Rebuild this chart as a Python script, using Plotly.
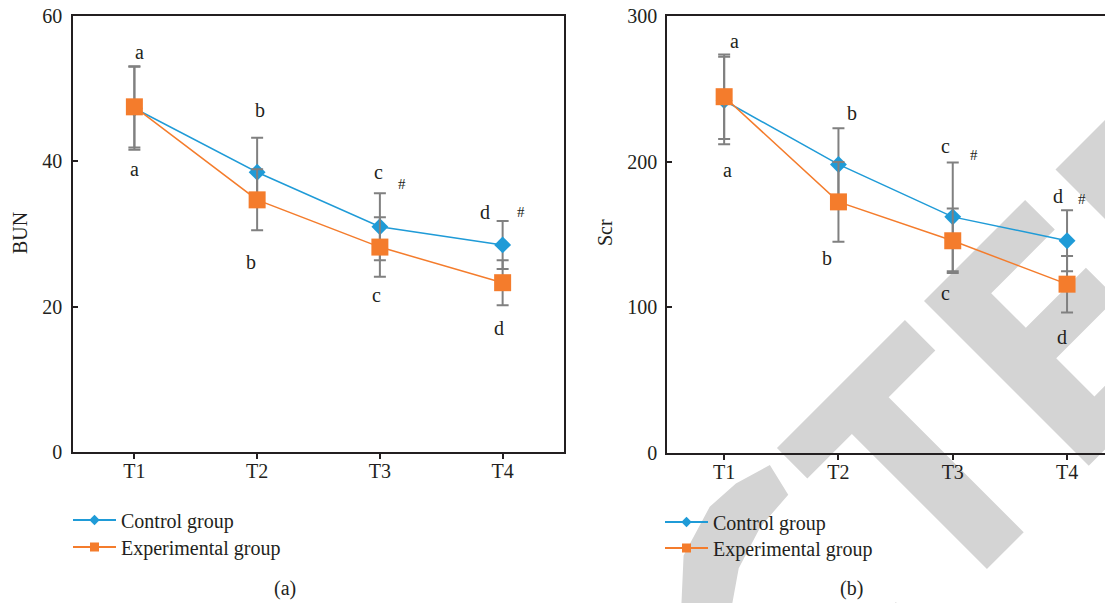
import math
import plotly.graph_objects as go

# ---------------- data ----------------
times = ["T1", "T2", "T3", "T4"]

bun_control = [47.3, 38.5, 31.0, 28.5]
bun_control_sd = [5.7, 4.75, 4.6, 3.3]
bun_exp = [47.5, 34.7, 28.2, 23.3]
bun_exp_sd = [5.6, 4.2, 4.1, 3.1]

scr_control = [242.0, 198.1, 162.1, 145.7]
scr_control_sd = [30.0, 24.8, 37.4, 21.0]
scr_exp = [244.6, 172.4, 145.7, 115.9]
scr_exp_sd = [29.0, 27.4, 22.2, 19.4]

letters_top = ["a", "b", "c", "d"]
letters_bottom = ["a", "b", "c", "d"]
hash_marks = ["", "", "#", "#"]

group_names = ["Control group", "Experimental group"]

# ---------------- styles ----------------
W, H = 1105, 603
FONT = "Liberation Serif"
BLUE = "#1f9bd7"
ORANGE = "#f47c2c"
GREY = "#808080"
AX = "#231f20"
WM = "#d4d4d4"


def px_x(p):
    return p / W


def px_y(p):
    return 1 - p / H


fig = go.Figure()


def add_group(xa, ya, ctrl, ctrl_sd, exp, exp_sd):
    fig.add_trace(go.Scatter(
        x=times, y=ctrl, xaxis=xa, yaxis=ya, mode="lines+markers",
        line=dict(color=BLUE, width=1.5),
        marker=dict(symbol="diamond", size=13, color=BLUE),
        error_y=dict(type="data", array=ctrl_sd, color=GREY, thickness=2, width=6),
        showlegend=False, cliponaxis=False))
    fig.add_trace(go.Scatter(
        x=times, y=exp, xaxis=xa, yaxis=ya, mode="lines+markers",
        line=dict(color=ORANGE, width=1.5),
        marker=dict(symbol="square", size=17, color=ORANGE),
        error_y=dict(type="data", array=exp_sd, color=GREY, thickness=2, width=6),
        showlegend=False, cliponaxis=False))


add_group("x", "y", bun_control, bun_control_sd, bun_exp, bun_exp_sd)
add_group("x2", "y2", scr_control, scr_control_sd, scr_exp, scr_exp_sd)

# legend-only traces (one legend box per entry so that the row spacing matches)
legend_specs = [
    ("legend", "x", "y", 0), ("legend2", "x", "y", 1),
    ("legend3", "x2", "y2", 0), ("legend4", "x2", "y2", 1),
]
for leg, xa, ya, gi in legend_specs:
    if gi == 0:
        fig.add_trace(go.Scatter(
            x=[None], y=[None], xaxis=xa, yaxis=ya, mode="lines+markers", name=group_names[0],
            line=dict(color=BLUE, width=2), marker=dict(symbol="diamond", size=8, color=BLUE),
            legend=leg))
    else:
        fig.add_trace(go.Scatter(
            x=[None], y=[None], xaxis=xa, yaxis=ya, mode="lines+markers", name=group_names[1],
            line=dict(color=ORANGE, width=2), marker=dict(symbol="square", size=9, color=ORANGE),
            legend=leg))

axis_common = dict(showline=True, linecolor=AX, linewidth=1.5, showgrid=False,
                   zeroline=False, tickcolor=AX, tickwidth=1.5, ticklen=5,
                   automargin=False,
                   tickfont=dict(family=FONT, size=20, color="#231f20"))


def legend_box(xp, yp):
    return dict(x=px_x(xp), y=px_y(yp), xanchor="left", yanchor="middle",
                bgcolor="rgba(0,0,0,0)", borderwidth=0, itemwidth=43,
                font=dict(family=FONT, size=20, color="#231f20"))


fig.update_layout(
    template="none",
    width=W, height=H, autosize=False,
    margin=dict(l=0, r=0, t=0, b=0, pad=0),
    paper_bgcolor="white", plot_bgcolor="rgba(0,0,0,0)",
    font=dict(family=FONT, size=20, color="#231f20"),
    xaxis=dict(domain=[px_x(73), px_x(564)], range=[-0.5, 3.5], type="category",
               ticks="outside", mirror=True, anchor="y", ticklabelstandoff=-5,
               **axis_common),
    yaxis=dict(domain=[px_y(452), px_y(16)], range=[0, 60], dtick=20,
               ticks="inside", mirror=True, anchor="x", ticklabelstandoff=5,
               **axis_common),
    xaxis2=dict(domain=[px_x(667), 1.0], range=[-0.5, 3.332], type="category",
                ticks="outside", mirror=True, anchor="y2", ticklabelstandoff=-5,
                **axis_common),
    yaxis2=dict(domain=[px_y(453), px_y(16)], range=[0, 300], dtick=100,
                ticks="inside", mirror=False, anchor="x2", ticklabelstandoff=4,
                **axis_common),
    legend=legend_box(68, 520),
    legend2=legend_box(68, 547),
    legend3=legend_box(660, 522),
    legend4=legend_box(660, 548),
)

# ---------------- annotations ----------------
ann = []
paper_txt = dict(xref="paper", yref="paper", showarrow=False,
                 xanchor="center", yanchor="middle", font=dict(size=20))
ann.append(dict(text="BUN", x=px_x(20), y=px_y(233), textangle=-90, **paper_txt))
ann.append(dict(text="Scr", x=px_x(605), y=px_y(233), textangle=-90, **paper_txt))
ann.append(dict(text="(a)", x=px_x(285), y=px_y(588), **paper_txt))
ann.append(dict(text="(b)", x=px_x(851), y=px_y(588), **paper_txt))

# significance-letter positions (layout: x offset in category units, y in data units)
pos_left = dict(
    top=[(0.04, 55.0), (1.02, 47.1), (1.99, 38.6), (2.86, 33.0)],
    bottom=[(0.0, 38.9), (0.95, 26.2), (1.97, 21.6), (2.97, 17.1)],
    hash=[None, None, (2.18, 36.9), (3.15, 33.0)],
)
pos_right = dict(
    top=[(0.09, 282.8), (1.12, 233.2), (1.94, 210.6), (2.92, 176.4)],
    bottom=[(0.03, 194.5), (0.90, 134.2), (1.94, 109.8), (2.96, 79.3)],
    hash=[None, None, (2.19, 204.9), (3.13, 174.4)],
)

for pos, xa, ya in ((pos_left, "x", "y"), (pos_right, "x2", "y2")):
    for i in range(len(times)):
        tx, ty = pos["top"][i]
        ann.append(dict(text=letters_top[i], x=tx, y=ty, xref=xa, yref=ya,
                        showarrow=False, font=dict(size=20)))
        bx, by = pos["bottom"][i]
        ann.append(dict(text=letters_bottom[i], x=bx, y=by, xref=xa, yref=ya,
                        showarrow=False, font=dict(size=20)))
        if hash_marks[i]:
            hx, hy = pos["hash"][i]
            ann.append(dict(text=hash_marks[i], x=hx, y=hy, xref=xa, yref=ya,
                            showarrow=False, font=dict(size=15)))

fig.update_layout(annotations=ann)

# ---------------- "RETRACTED" watermark (decoration) ----------------
# letter outlines in a rotated letter frame (a: along text, b: letter up), in pixels
WM_ORIGIN = (924, 301)
r2 = math.sqrt(2)


def wm_pt(a, b):
    x = WM_ORIGIN[0] + (a - b) / r2
    y = WM_ORIGIN[1] + (-a - b) / r2
    return px_x(x), px_y(y)


letter_T = [(-208, 0), (-27, 0), (-27, -43), (-93, -43), (-93, -234), (-145, -234),
            (-145, -43), (-208, -43)]
letter_E = [(0, 0), (143, 0), (143, -42), (53, -42), (53, -91), (138, -91), (138, -134),
            (53, -134), (53, -188), (150, -188), (150, -233), (0, -233)]
letter_D = [(186, 0), (330, 0), (330, -233), (186, -233)]
letter_C = [(-225, -7), (-262, 4), (-297, 6), (-350, -10), (-385, -42), (-403, -80),
            (-408, -117), (-403, -154), (-385, -192), (-350, -224), (-297, -240),
            (-262, -238), (-225, -227),
            (-233, -193), (-275, -190), (-320, -176), (-349, -156), (-358, -117),
            (-349, -78), (-320, -58), (-275, -44), (-233, -41)]

shapes = []
for poly in (letter_T, letter_E, letter_D, letter_C):
    pts = [wm_pt(a, b) for a, b in poly]
    path = "M " + " L ".join(f"{x:.5f},{y:.5f}" for x, y in pts) + " Z"
    shapes.append(dict(type="path", path=path, xref="paper", yref="paper",
                       fillcolor=WM, line=dict(width=0), layer="below"))
fig.update_layout(shapes=shapes)

fig.write_html("out.html",
               config={"displayModeBar": False},
               post_script="document.body.style.margin='0';document.body.style.padding='0';"
                           "document.body.style.overflow='hidden';")
